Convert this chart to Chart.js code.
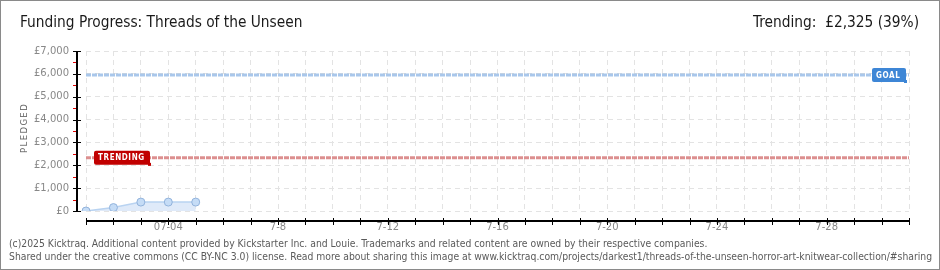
<!DOCTYPE html>
<html lang="en">
<head>
  <meta charset="UTF-8">
  <title>Funding Progress: Threads of the Unseen</title>
  <script src="https://cdn.jsdelivr.net/npm/chart.js"></script>
  <style>
    body { margin: 0; background: #fff; }
    .janela { position: relative; width: 940px; height: 270px; box-sizing: border-box; border: 1px solid #8a8a8a; overflow: hidden; }
    .titulo { position: absolute; left: 19px; top: 12px; font: 15.3px "Liberation Sans Narrow", "DejaVu Sans Condensed", sans-serif; color: #1a1a1a; }
    .trending { position: absolute; right: 20px; top: 12px; font: 15.3px "Liberation Sans Narrow", "DejaVu Sans Condensed", sans-serif; color: #1a1a1a; }
    .pledged { position: absolute; left: 0px; top: 124px; width: 46px; transform: rotate(-90deg); font: 8.5px "DejaVu Sans", sans-serif; letter-spacing: 1.4px; color: #666; text-align: center; }
    .rodape { position: absolute; left: 8px; top: 236px; font: 10.3px "Liberation Sans Narrow", "DejaVu Sans Condensed", sans-serif; color: #5a5a5a; line-height: 13px; white-space: nowrap; }
    canvas { position: absolute; left: 0; top: 0; }
  </style>
</head>
<body>
<div class="janela">
  <canvas id="grafico" width="940" height="270"></canvas>
  <div class="titulo">Funding Progress: Threads of the Unseen</div>
  <div class="trending">Trending: &nbsp;£2,325 (39%)</div>
  <div class="pledged">PLEDGED</div>
  <div class="rodape">
    (c)2025 Kicktraq. Additional content provided by Kickstarter Inc. and Louie. Trademarks and related content are owned by their respective companies.<br>
    Shared under the creative commons (CC BY-NC 3.0) license. Read more about sharing this image at www.kicktraq.com/projects/darkest1/threads-of-the-unseen-horror-art-knitwear-collection/#sharing
  </div>
</div>
<script>
// days of the campaign (july)
var dias = [];
for (var d = 1; d <= 31; d++) dias.push('7-' + d);

// pledged so far, one value per day
var pledged = [0, 150, 390, 390, 390];

// days that get a label below the axis
var rotulos = { 3: '07-04', 7: '7-8', 11: '7-12', 15: '7-16', 19: '7-20', 23: '7-24', 27: '7-28' };

var yTicks = [0, 1000, 2000, 3000, 4000, 5000, 6000, 7000];
var meta = 5950;
var tendencia = 2325;

// axes, ticks and the goal / trending markers
var eixos = {
  id: 'eixos',
  afterDatasetsDraw: function(chart) {
    var ctx = chart.ctx;
    var x = chart.scales.x, y = chart.scales.y;
    var area = chart.chartArea;

    ctx.save();
    // y axis
    ctx.strokeStyle = '#000';
    ctx.lineWidth = 2;
    ctx.beginPath();
    ctx.moveTo(76, y.getPixelForValue(7000));
    ctx.lineTo(76, y.getPixelForValue(0));
    ctx.stroke();
    for (var v = 0; v <= 7000; v += 500) {
      var py = Math.round(y.getPixelForValue(v)) + 0.5;
      ctx.lineWidth = 1;
      ctx.strokeStyle = v % 1000 == 0 ? '#000' : '#e00000';
      ctx.beginPath();
      ctx.moveTo(72, py);
      ctx.lineTo(v % 1000 == 0 ? 80 : 75, py);
      ctx.stroke();
    }
    // x axis
    ctx.strokeStyle = '#000';
    ctx.lineWidth = 2;
    ctx.beginPath();
    ctx.moveTo(area.left, 220);
    ctx.lineTo(area.right, 220);
    ctx.stroke();
    ctx.lineWidth = 1;
    for (var i = 0; i < dias.length; i++) {
      var px = Math.round(x.getPixelForValue(i)) + 0.5;
      ctx.beginPath();
      ctx.moveTo(px, 217);
      ctx.lineTo(px, 224);
      ctx.stroke();
    }

    linha(ctx, area, y.getPixelForValue(meta), 'rgba(140,180,228,0.75)');
    linha(ctx, area, y.getPixelForValue(tendencia), 'rgba(205,95,95,0.7)');
    etiqueta(ctx, 871, y.getPixelForValue(meta), 34, 'GOAL', '#3d86d6');
    etiqueta(ctx, 93, y.getPixelForValue(tendencia), 56, 'TRENDING', '#c10000');
    ctx.restore();
  }
};

function linha(ctx, area, py, cor) {
  ctx.save();
  ctx.strokeStyle = cor;
  ctx.lineWidth = 3;
  ctx.setLineDash([5, 1]);
  ctx.beginPath();
  ctx.moveTo(area.left, py);
  ctx.lineTo(area.right, py);
  ctx.stroke();
  ctx.restore();
}

function etiqueta(ctx, x0, py, w, texto, cor) {
  ctx.save();
  ctx.fillStyle = cor;
  ctx.beginPath();
  ctx.roundRect(x0, py - 7, w, 14, 2);
  ctx.fill();
  ctx.fillRect(x0 + w - 2, py + 5, 3, 3);
  ctx.fillStyle = '#fff';
  ctx.font = 'bold 8px "DejaVu Sans Condensed", "DejaVu Sans", sans-serif';
  ctx.letterSpacing = '0.6px';
  ctx.textBaseline = 'middle';
  ctx.fillText(texto, x0 + 4, py + 0.5);
  ctx.restore();
}

var ctx = document.getElementById('grafico').getContext('2d');
var myChart = new Chart(ctx, {
  type: 'line',
  data: {
    labels: dias,
    datasets: [{
      label: 'pledged',
      data: pledged,
      borderColor: '#b9d3f1',
      borderWidth: 1.5,
      backgroundColor: '#dfeaf9',
      fill: 'origin',
      pointRadius: 4,
      pointBackgroundColor: '#c5dcf6',
      pointBorderColor: '#92b3dc',
      pointBorderWidth: 1,
      tension: 0
    }]
  },
  options: {
    responsive: false,
    animation: false,
    layout: { padding: { top: 50, right: 32, left: 0, bottom: 0 } },
    plugins: { legend: { display: false }, tooltip: { enabled: false } },
    scales: {
      x: {
        offset: false,
        afterFit: function(s) { s.height = 60; },
        border: { display: false },
        grid: { color: '#e3e3e3', drawTicks: false },
        ticks: {
          autoSkip: false,
          maxRotation: 0,
          padding: 10,
          color: '#888',
          font: { family: 'DejaVu Sans', size: 10 },
          callback: function(val, idx) { return rotulos[idx] || ''; }
        }
      },
      y: {
        min: 0,
        max: 7000,
        afterFit: function(s) { s.width = 85; },
        afterBuildTicks: function(s) { s.ticks = yTicks.map(function(v) { return { value: v }; }); },
        border: { display: false },
        grid: { color: '#e3e3e3', drawTicks: false },
        ticks: {
          padding: 17,
          color: '#888',
          font: { family: 'DejaVu Sans', size: 10 },
          callback: function(v) { return '£' + v.toLocaleString('en-US'); }
        }
      }
    }
  },
  plugins: [eixos]
});

// dashed grid
myChart.options.scales.x.border.dash = [5, 4];
myChart.options.scales.y.border.dash = [5, 4];
myChart.update();
</script>
</body>
</html>
